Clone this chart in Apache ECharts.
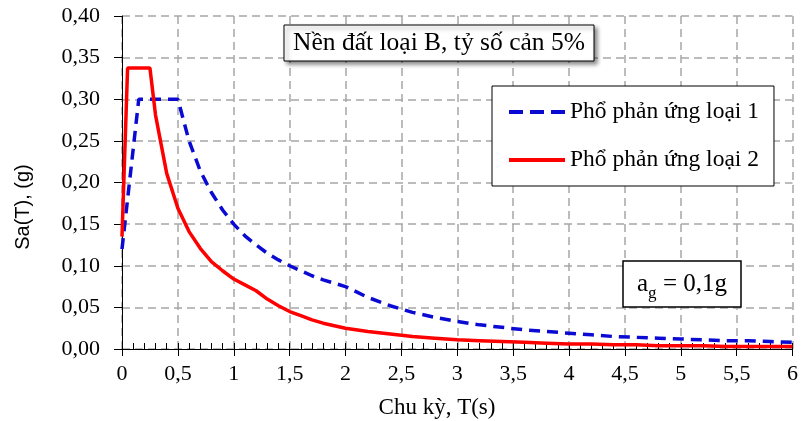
<!DOCTYPE html>
<html>
<head>
<meta charset="utf-8">
<script src="https://cdn.jsdelivr.net/npm/echarts@6/dist/echarts.min.js"></script>
<style>
  html, body { margin: 0; padding: 0; background: #fff; }
  #main { width: 801px; height: 421px; }
</style>
</head>
<body>
<div id="main"></div>
<script>
// chu ky T(s)
var periods = [0, 0.05, 0.15, 0.25, 0.3, 0.4, 0.5, 0.6, 0.7, 0.8, 0.9, 1.0, 1.1, 1.2, 1.3, 1.4,
  1.5, 1.6, 1.7, 1.8, 1.9, 2.0, 2.2, 2.4, 2.6, 2.8, 3.0, 3.2, 3.4, 3.6, 3.8, 4.0, 4.2, 4.4,
  4.6, 4.8, 5.0, 5.2, 5.4, 5.6, 5.8, 6.0];

// Pho phan ung loai 1
var sa_loai1 = [0.12, 0.18, 0.30, 0.30, 0.30, 0.30, 0.30, 0.25, 0.214, 0.188, 0.167, 0.15, 0.136,
  0.125, 0.115, 0.107, 0.10, 0.094, 0.088, 0.083, 0.079, 0.075, 0.062, 0.052, 0.044, 0.038,
  0.033, 0.029, 0.026, 0.023, 0.021, 0.019, 0.017, 0.015, 0.014, 0.013, 0.012, 0.011, 0.010,
  0.010, 0.009, 0.008];

// Pho phan ung loai 2
var sa_loai2 = [0.135, 0.3375, 0.3375, 0.3375, 0.281, 0.211, 0.169, 0.141, 0.121, 0.105, 0.094,
  0.084, 0.077, 0.070, 0.060, 0.052, 0.045, 0.040, 0.035, 0.031, 0.028, 0.025, 0.021, 0.018,
  0.015, 0.013, 0.011, 0.010, 0.009, 0.008, 0.007, 0.006, 0.006, 0.005, 0.005, 0.004, 0.004,
  0.004, 0.003, 0.003, 0.003, 0.003];

var ten_loai = ['Phổ phản ứng loại 1', 'Phổ phản ứng loại 2'];

var serif = '"Liberation Serif", "Times New Roman", serif';

var chart = echarts.init(document.getElementById('main'));

var gridLine = {
  show: true,
  lineStyle: { color: '#a6a6a6', width: 1.5, type: [8, 5] }
};

var option = {
  animation: false,
  backgroundColor: '#fff',
  grid: { left: 122, right: 5, top: 16, bottom: 72 },
  legend: {
    orient: 'vertical',
    left: 492,
    top: 86,
    padding: [14, 15, 14, 15],
    itemGap: 24,
    itemWidth: 56,
    itemHeight: 22,
    backgroundColor: '#fff',
    borderColor: '#000',
    borderWidth: 1,
    itemStyle: { opacity: 0 },
    textStyle: { fontFamily: serif, fontSize: 23.5, color: '#000' },
    data: [
      { name: ten_loai[0], lineStyle: { width: 4, type: [14, 7] } },
      { name: ten_loai[1], lineStyle: { width: 4 } }
    ]
  },
  xAxis: [{
    type: 'value',
    min: 0,
    max: 6,
    interval: 0.5,
    axisLine: { lineStyle: { color: '#000', width: 1 } },
    axisTick: { show: true, inside: false, length: 7, lineStyle: { color: '#000' } },
    axisLabel: {
      margin: 14,
      fontFamily: serif, fontSize: 22, color: '#000',
      formatter: function (v) { return String(v).replace('.', ','); }
    },
    splitLine: gridLine
  }, {
    // vach chia nho
    type: 'value',
    position: 'bottom',
    min: 0,
    max: 6,
    interval: 0.1,
    axisLine: { show: false },
    axisTick: { show: true, inside: true, length: 6, lineStyle: { color: '#000' } },
    axisLabel: { show: false },
    splitLine: { show: false }
  }],
  yAxis: {
    type: 'value',
    min: 0,
    max: 0.4,
    interval: 0.05,
    axisLine: { show: true, lineStyle: { color: '#000', width: 1 } },
    axisTick: { show: true, inside: false, length: 8, lineStyle: { color: '#000' } },
    axisLabel: {
      margin: 22,
      fontFamily: serif, fontSize: 22, color: '#000',
      formatter: function (v) { return v.toFixed(2).replace('.', ','); }
    },
    splitLine: gridLine
  },
  series: [{
    name: ten_loai[0],
    type: 'line',
    xAxisIndex: 0,
    symbol: 'none',
    data: periods.map(function (t, i) { return [t, sa_loai1[i]]; }),
    lineStyle: { color: '#0a0ad2', width: 3.5, type: [11, 7] },
    itemStyle: { color: '#0a0ad2' },
    z: 3
  }, {
    name: ten_loai[1],
    type: 'line',
    xAxisIndex: 0,
    symbol: 'none',
    data: periods.map(function (t, i) { return [t, sa_loai2[i]]; }),
    lineStyle: { color: '#ff0000', width: 3.5 },
    itemStyle: { color: '#ff0000' },
    z: 4
  }],
  graphic: [{
    type: 'rect',
    shape: { x: 284, y: 25, width: 310, height: 36 },
    style: {
      fill: '#fff', stroke: '#000', lineWidth: 1,
      shadowBlur: 4, shadowOffsetX: 3, shadowOffsetY: 3, shadowColor: 'rgba(0,0,0,0.45)'
    },
    z: 10
  }, {
    type: 'text',
    x: 439, y: 43,
    style: {
      text: 'Nền đất loại B, tỷ số cản 5%',
      font: '25.5px ' + serif, fill: '#000', align: 'center', verticalAlign: 'middle'
    },
    z: 11
  }, {
    type: 'rect',
    shape: { x: 623, y: 261, width: 118, height: 46 },
    style: { fill: '#fff', stroke: '#000', lineWidth: 1.5 },
    z: 10
  }, {
    type: 'text',
    x: 637, y: 284,
    style: { text: 'a', font: '25px ' + serif, fill: '#000', verticalAlign: 'middle' },
    z: 11
  }, {
    type: 'text',
    x: 648, y: 294,
    style: { text: 'g', font: '17px ' + serif, fill: '#000', verticalAlign: 'middle' },
    z: 11
  }, {
    type: 'text',
    x: 663, y: 284,
    style: { text: '= 0,1g', font: '25px ' + serif, fill: '#000', verticalAlign: 'middle' },
    z: 11
  }, {
    type: 'text',
    x: 437, y: 408,
    style: {
      text: 'Chu kỳ, T(s)',
      font: '23px ' + serif, fill: '#000', align: 'center', verticalAlign: 'middle'
    },
    z: 11
  }, {
    type: 'text',
    x: 23, y: 207,
    rotation: Math.PI / 2,
    style: {
      text: 'Sa(T), (g)',
      font: '20px "Liberation Sans", Arial, sans-serif', fill: '#000',
      align: 'center', verticalAlign: 'middle'
    },
    z: 11
  }]
};

chart.setOption(option);
</script>
</body>
</html>
